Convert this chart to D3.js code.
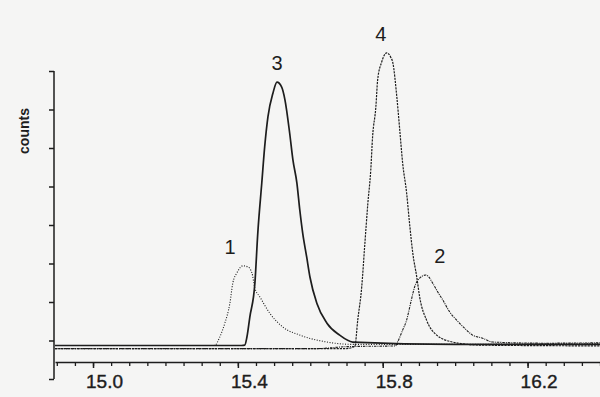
<!DOCTYPE html>
<html>
<head>
<meta charset="utf-8">
<script src="https://cdn.jsdelivr.net/npm/d3@7"></script>
<style>
  html, body { margin: 0; padding: 0; background: #f5f5f4; }
  svg { display: block; font-family: "Liberation Sans", Arial, sans-serif; }
</style>
</head>
<body>
<div id="chart"></div>
<script>
// peak data (x = position, y = counts in tick units)
const peak1X = [14.895, 15.330, 15.337, 15.350, 15.364, 15.378, 15.386, 15.397, 15.414, 15.428, 15.439, 15.447, 15.461, 15.488, 15.524, 15.571, 15.646, 15.717, 15.900, 16.400];
const peak1Y = [0.87, 0.87, 0.88, 1.09, 1.45, 1.97, 2.49, 2.75, 2.94, 2.91, 2.75, 2.36, 2.13, 1.71, 1.35, 1.14, 0.96, 0.90, 0.90, 0.92];

const peak2X = [14.895, 15.620, 15.700, 15.835, 15.841, 15.855, 15.866, 15.877, 15.888, 15.902, 15.919, 15.927, 15.938, 15.952, 15.966, 15.985, 16.004, 16.026, 16.048, 16.076, 16.103, 16.250, 16.400];
const peak2Y = [0.79, 0.79, 0.84, 0.86, 0.96, 1.27, 1.53, 1.97, 2.39, 2.62, 2.70, 2.65, 2.49, 2.26, 2.05, 1.74, 1.53, 1.32, 1.14, 1.06, 0.96, 0.93, 0.94];

const peak3X = [14.895, 15.410, 15.419, 15.425, 15.433, 15.447, 15.455, 15.466, 15.474, 15.483, 15.497, 15.508, 15.521, 15.530, 15.543, 15.552, 15.563, 15.571, 15.579, 15.590, 15.599, 15.618, 15.646, 15.681, 15.717, 16.000, 16.400];
const peak3Y = [0.87, 0.87, 0.88, 1.09, 1.61, 2.49, 3.79, 5.09, 6.03, 6.81, 7.43, 7.71, 7.58, 7.25, 6.39, 5.69, 5.09, 4.39, 3.79, 3.17, 2.65, 1.97, 1.45, 1.14, 0.96, 0.90, 0.90];

const peak4X = [14.895, 15.700, 15.723, 15.731, 15.742, 15.750, 15.759, 15.767, 15.772, 15.781, 15.786, 15.797, 15.811, 15.822, 15.828, 15.839, 15.847, 15.855, 15.866, 15.874, 15.883, 15.894, 15.902, 15.921, 15.949, 15.993, 16.068, 16.400];
const peak4Y = [0.79, 0.79, 0.85, 1.53, 2.39, 3.43, 4.57, 5.43, 6.29, 7.06, 7.77, 8.23, 8.47, 8.36, 8.21, 7.32, 6.47, 5.61, 4.83, 4.05, 3.27, 2.65, 2.13, 1.53, 1.14, 0.96, 0.88, 0.86];

const peakNames = ["1", "2", "3", "4"];
const xTickLabels = [15.0, 15.4, 15.8, 16.2];
const yLabel = "counts";

const series = [
  { name: peakNames[0], xs: peak1X, ys: peak1Y, dash: "1,1.6", width: 1.1, dx: -13 },
  { name: peakNames[1], xs: peak2X, ys: peak2Y, dash: "2.5,1,1,1", width: 1.1, dx: 14 },
  { name: peakNames[2], xs: peak3X, ys: peak3Y, dash: null, width: 1.7, dx: 0 },
  { name: peakNames[3], xs: peak4X, ys: peak4Y, dash: "2.2,1", width: 1.2, dx: -6 }
];

const width = 600, height = 397;
const ink = "#1d1d1d";

const svg = d3.select("#chart").append("svg")
    .attr("width", width)
    .attr("height", height);

let x = d3.scaleLinear().domain([14.895, 16.4]).range([55, 600]);
let y = d3.scaleLinear().domain([0, 8]).range([379, 71]);
const xAxisY = 362;

// y axis: plain line with ticks to the left, no labels
svg.append("g")
    .attr("transform", "translate(54,0)")
    .call(d3.axisLeft(y).tickValues(d3.range(0, 9)).tickSize(5).tickFormat(""))
    .call(g => g.select(".domain").attr("stroke", ink).attr("stroke-width", 1.5).attr("d", `M0,${y(8)}V${y(0)}`))
    .call(g => g.selectAll(".tick line").attr("stroke", ink).attr("stroke-width", 1.5));

// x axis: minor ticks every 0.05
let minorTicks = d3.range(14.9, 16.401, 0.05).map(v => +v.toFixed(2));
svg.append("g")
    .attr("transform", `translate(0,${xAxisY})`)
    .call(d3.axisBottom(x).tickValues(minorTicks).tickSize(4).tickSizeOuter(0).tickFormat(""))
    .call(g => g.select(".domain").attr("stroke", ink).attr("stroke-width", 1.5))
    .call(g => g.selectAll(".tick line").attr("stroke", ink).attr("stroke-width", 1.3));

// labelled ticks
let majorAxis = svg.append("g")
    .attr("transform", `translate(0,${xAxisY})`)
    .call(d3.axisBottom(x).tickValues(xTickLabels).tickSize(6).tickFormat(d3.format(".1f")));
majorAxis.select(".domain").remove();
majorAxis.selectAll(".tick line").attr("stroke", ink).attr("stroke-width", 1.5);
majorAxis.selectAll(".tick text")
    .attr("fill", ink)
    .attr("stroke", ink)
    .attr("stroke-width", 0.4)
    .attr("y", 0)
    .attr("dy", 26)
    .attr("dx", 11)
    .style("font-size", "19px");

// y label
svg.append("text")
    .attr("transform", "translate(28.5,131) rotate(-90)")
    .attr("text-anchor", "middle")
    .attr("fill", ink)
    .style("font-size", "14px")
    .style("font-weight", "bold")
    .text(yLabel);

let line = d3.line()
    .x(d => x(d[0]))
    .y(d => y(d[1]))
    .curve(d3.curveMonotoneX);

series.forEach(s => {
    let pts = s.xs.map((v, i) => [v, s.ys[i]]);
    svg.append("path")
        .datum(pts)
        .attr("d", line)
        .attr("fill", "none")
        .attr("stroke", ink)
        .attr("stroke-width", s.width)
        .attr("stroke-dasharray", s.dash);

    let top = d3.maxIndex(s.ys);
    svg.append("text")
        .attr("x", x(s.xs[top]) + s.dx)
        .attr("y", y(s.ys[top]) - 12)
        .attr("text-anchor", "middle")
        .attr("fill", ink)
        .style("font-size", "20px")
        .text(s.name);
});
</script>
</body>
</html>
